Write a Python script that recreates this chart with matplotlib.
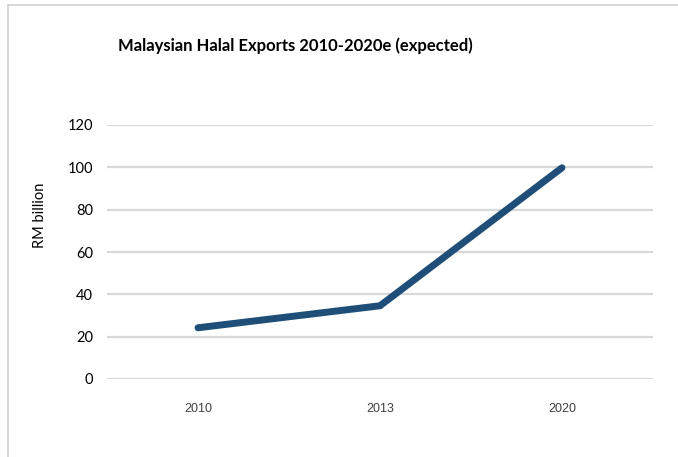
import matplotlib
matplotlib.use("Agg")
import matplotlib.pyplot as plt
from matplotlib.lines import Line2D

years = ["2010", "2013", "2020"]
exports = [24.2, 34.6, 99.8]
yticks = [0, 20, 40, 60, 80, 100, 120]

fig = plt.figure(figsize=(6.78, 4.57), dpi=100)
ax = fig.add_axes([107/678, 1-379/457, (653-107)/678, (379-125)/457])

x = list(range(len(years)))
ax.plot(x, exports, color="#1f4e79", linewidth=5, solid_capstyle="round", solid_joinstyle="miter", zorder=3)

ax.set_xlim(-0.5, len(years)-0.5)
ax.set_ylim(0, 120)
ax.set_yticks(yticks)
ax.set_xticks(x)
ax.set_xticklabels(years, fontsize=9, color="#404040", family=["Liberation Sans Narrow", "Liberation Sans", "DejaVu Sans"])
ax.set_yticklabels([str(v) for v in yticks], fontsize=10.5, color="#000000", family=["Lato", "DejaVu Sans"])
ax.tick_params(axis="both", length=0)
ax.tick_params(axis="y", pad=10)
ax.tick_params(axis="x", pad=17)
ax.grid(axis="y", color="#d9d9d9", linewidth=1.6)
ax.set_axisbelow(True)
for s in ax.spines.values():
    s.set_visible(False)

ax.set_ylabel("RM billion", fontsize=10.5, family=["Lato", "DejaVu Sans"])
ax.yaxis.set_label_coords(-60/546, 0.645)

fig.text(118/678, 1-46/457, "Malaysian Halal Exports 2010-2020e (expected)", fontsize=12,
         fontweight="bold", family=["Lato", "DejaVu Sans"], ha="left", va="center")

# outer border (left and top)
fig.add_artist(Line2D([8/678, 8/678], [0, 1-5/457], transform=fig.transFigure, color="#d0d0d0", linewidth=1.2))
fig.add_artist(Line2D([8/678, 1], [1-5/457, 1-5/457], transform=fig.transFigure, color="#d0d0d0", linewidth=1.2))

fig.savefig("out.png", dpi=100)
